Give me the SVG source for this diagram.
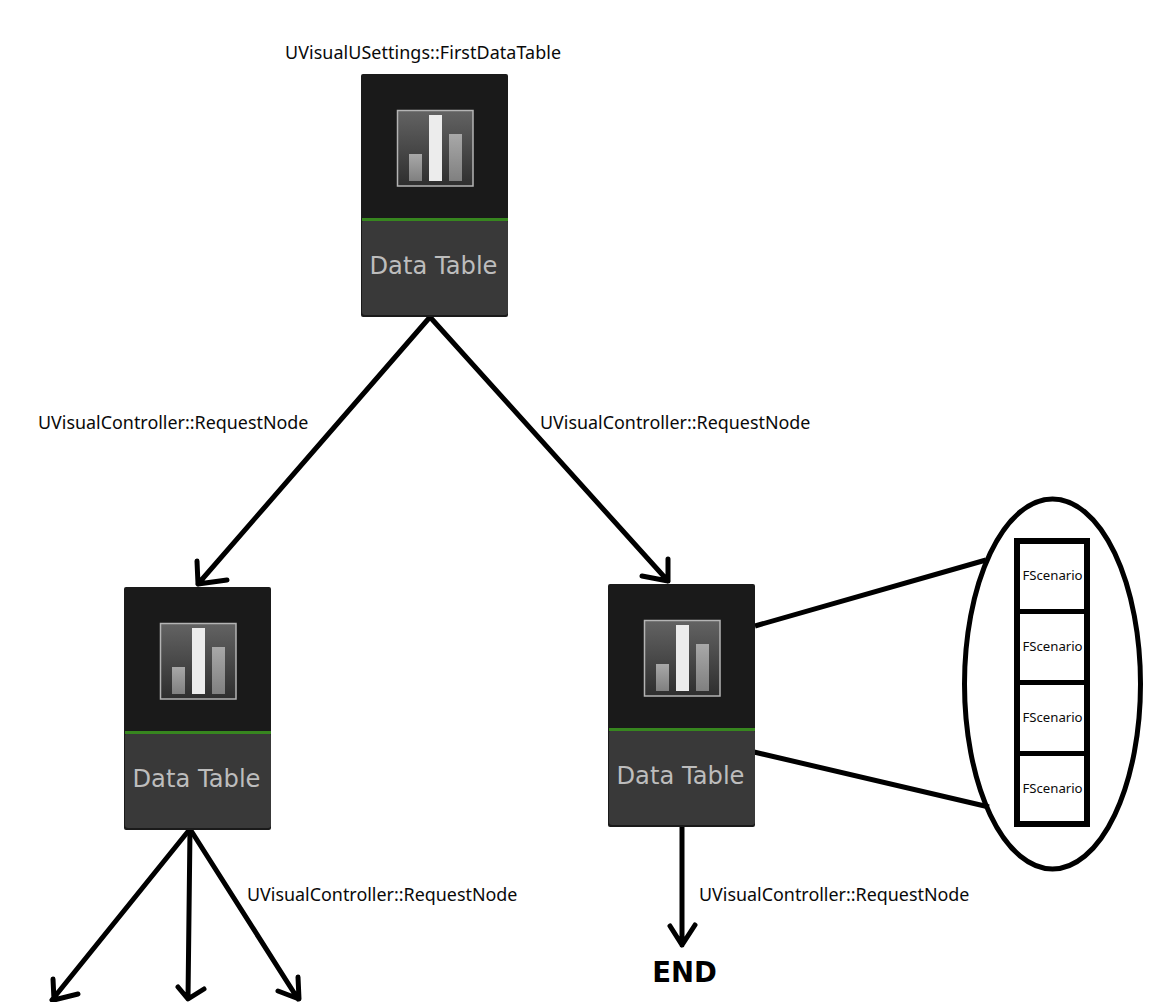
<svg xmlns="http://www.w3.org/2000/svg" xmlns:xlink="http://www.w3.org/1999/xlink" width="1162" height="1002" viewBox="0 0 1162 1002">
<style>
.lbl{font-family:"Noto Sans","Open Sans","DejaVu Sans",sans-serif;font-size:17.9px;fill:#0a0a0a}
.dt{font-family:"DejaVu Sans",sans-serif;font-size:24.2px;fill:#bdbdbd;text-anchor:middle}
.fs{font-family:"Noto Sans","DejaVu Sans",sans-serif;font-size:13.2px;fill:#0a0a0a;text-anchor:middle}
.end{font-family:"DejaVu Sans",sans-serif;font-size:27.5px;font-weight:bold;fill:#000;text-anchor:middle}
.c{fill:none;stroke:#000;stroke-width:5;stroke-linecap:round;stroke-linejoin:round}
.t{fill:none;stroke:#000;stroke-width:5}
.b{fill:none;stroke:#000;stroke-width:6}
</style>
<defs>
<linearGradient id="ig" x1="0" y1="0" x2="0" y2="1"><stop offset="0" stop-color="#636363"/><stop offset="1" stop-color="#2e2e2e"/></linearGradient>
<linearGradient id="bg" x1="0" y1="0" x2="0" y2="1"><stop offset="0" stop-color="#a8a8a8"/><stop offset="1" stop-color="#808080"/></linearGradient>
<g id="dtnode">
<rect x="0" y="0" width="147" height="243" rx="2" fill="#1a1a1a"/>
<rect x="1" y="146" width="146" height="95" rx="3" fill="#393939"/>
<rect x="1" y="144" width="146" height="3" fill="#37861f"/>
<rect x="36.500" y="36.500" width="75.500" height="75.500" fill="url(#ig)" stroke="#b4b4b4" stroke-width="1.500"/>
<rect x="48" y="80" width="13" height="27" fill="url(#bg)"/>
<rect x="68" y="41" width="13" height="66" fill="#ececec"/>
<rect x="88" y="60" width="13" height="47" fill="url(#bg)"/>
<text class="dt" x="72.500" y="200">Data Table</text>
</g>
</defs>
<rect width="1162" height="1002" fill="#fff"/>
<g id="connectors">
<path class="c" d="M430 317L198 584M197 561L198 584L227 580"/>
<path class="c" d="M430 317L668 581M668 559L668 581L642 576"/>
<path class="c" d="M190 829L52 1000M53 979L54 1000L78 994"/>
<path class="c" d="M190 829L188 999M178 987L188 999L204 989"/>
<path class="c" d="M190 829L298 999M298 977L299 999L278 991"/>
<path class="c" d="M682 825V945M670 926L682 945L695 925"/>
<path class="c" style="stroke-linecap:butt" d="M755 626L986 560M754 752L989 807"/>
</g>
<g id="node-first"><use xlink:href="#dtnode" href="#dtnode" x="361" y="74"/></g>
<g id="node-left"><use xlink:href="#dtnode" href="#dtnode" x="124" y="587"/></g>
<g id="node-right"><use xlink:href="#dtnode" href="#dtnode" x="608" y="584"/></g>
<g id="scenarios">
<ellipse class="t" cx="1052.500" cy="684" rx="88" ry="185"/>
<rect class="b" x="1017" y="541" width="70" height="283"/>
<path class="t" d="M1017 611.500H1087M1017 682.500H1087M1017 753.500H1087"/>
<text class="fs" x="1052.500" y="580">FScenario</text>
<text class="fs" x="1052.500" y="651">FScenario</text>
<text class="fs" x="1052.500" y="722">FScenario</text>
<text class="fs" x="1052.500" y="793">FScenario</text>
</g>
<g id="labels">
<text class="lbl" x="285" y="59" textLength="276">UVisualUSettings::FirstDataTable</text>
<text class="lbl" x="38" y="428.500">UVisualController::RequestNode</text>
<text class="lbl" x="540" y="428.500">UVisualController::RequestNode</text>
<text class="lbl" x="247" y="900.500">UVisualController::RequestNode</text>
<text class="lbl" x="699" y="900.500">UVisualController::RequestNode</text>
<text class="end" x="684.500" y="982">END</text>
</g>
</svg>
